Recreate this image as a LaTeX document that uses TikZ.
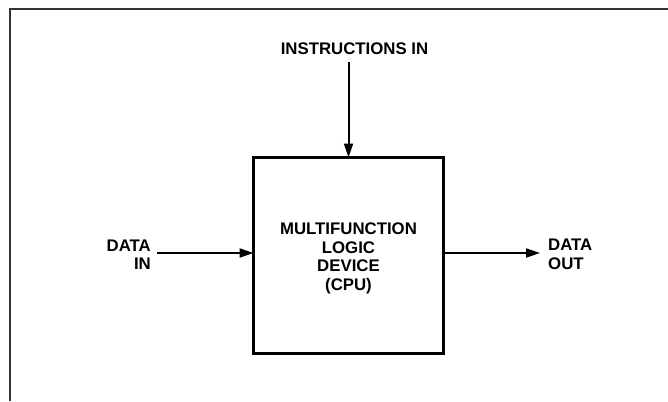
\documentclass[tikz,border=0pt]{standalone}
\usepackage{fontspec}
\setmainfont{Liberation Sans}
\usetikzlibrary{arrows.meta}
\begin{document}
\begin{tikzpicture}[x=1pt,y=-1pt,
  lbl/.style={font=\bfseries\fontsize{16.8}{18.5}\selectfont, inner sep=0pt},
  flow/.style={line width=2pt, -{Triangle[length=14pt,width=9pt]}},
  cpubox/.style={draw, line width=3.2pt, minimum width=190pt, minimum height=196pt,
    inner sep=0pt, outer sep=0pt}]
  \useasboundingbox (0,0) rectangle (668,401);
  % partial frame: top rule and left rule
  \draw[black!80, line width=1.3pt] (668,9) -- (10,9) -- (10,401);
  % central processing block and its caption
  \node[cpubox] (cpu) at (348.5,255.5) {};
  \node[lbl, align=center] (cputext) at ([yshift=-3pt]cpu.center)
    {MULTIFUNCTION\\LOGIC\\DEVICE\\(CPU)};
  % labels
  \node[lbl] (instr) at (354.5,49) {INSTRUCTIONS IN};
  \node[lbl, align=right, anchor=east] (din) at (151,254.5) {DATA\\IN};
  \node[lbl, align=left, anchor=west] (dout) at (548,254.5) {DATA\\OUT};
  % connectors
  \draw[flow] (cpu.north |- 0,62) coordinate (istart) -- (cpu.north);
  \draw[flow] ([xshift=6pt]din.east |- 0,253) -- (cpu.west |- 0,253);
  \draw[flow] (cpu.east |- 0,253) -- ([xshift=-8pt]dout.west |- 0,253);
\end{tikzpicture}
\end{document}
